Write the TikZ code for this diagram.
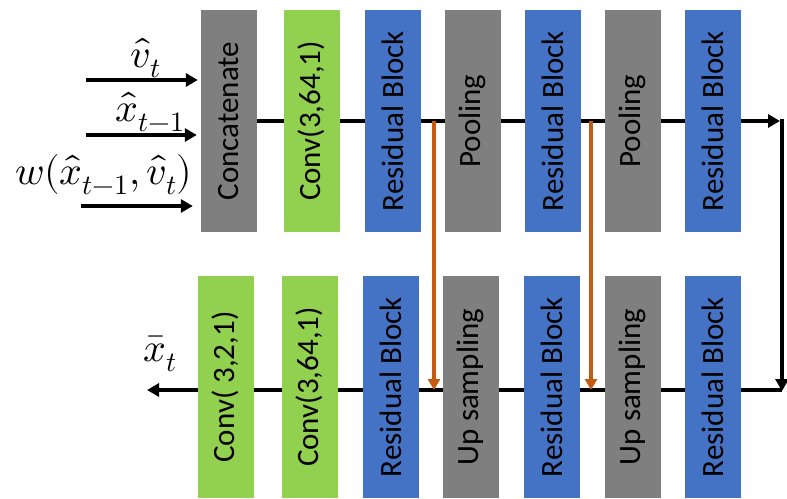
\documentclass[tikz,border=0pt]{standalone}
\usepackage{fontspec}
\usepackage{unicode-math}
\setmainfont{Carlito}
\setmathfont{Latin Modern Math}
\usetikzlibrary{arrows.meta,backgrounds}
\definecolor{gboxc}{HTML}{7F7F7F}
\definecolor{grboxc}{HTML}{92D050}
\definecolor{bboxc}{HTML}{4472C4}
\definecolor{skipc}{HTML}{C55A11}
\tikzset{
  blk/.style={rotate=90, minimum width=222pt, minimum height=56pt, inner sep=0pt,
    font=\fontsize{31}{37}\selectfont, text=black},
  graybox/.style={blk, fill=gboxc},
  greenbox/.style={blk, fill=grboxc},
  bluebox/.style={blk, fill=bboxc},
  mainline/.style={line width=4pt, black},
  tipb/.style={-{Triangle[length=12pt,width=13pt]}},
  skipline/.style={line width=3.2pt, skipc, -{Triangle[length=11pt,width=12pt]}},
  mlabel/.style={inner sep=0pt, font=\fontsize{40}{48}\selectfont},
}
\begin{document}
\begin{tikzpicture}[x=1pt,y=-1pt]
\useasboundingbox (0,0) rectangle (787,498);
% top row
\node[graybox]  (cat) at (229,121)   {Concatenate};
\node[greenbox] (c1)  at (311.5,121) {Conv(3,64,1)};
\node[bluebox]  (r1)  at (392.5,121) {Residual Block};
\node[graybox]  (p1)  at (472.5,121) {Pooling};
\node[bluebox]  (r2)  at (552.5,121) {Residual Block};
\node[graybox]  (p2)  at (632.5,121) {Pooling};
\node[bluebox]  (r3)  at (712.5,121) {Residual Block};
% bottom row
\node[greenbox] (o1) at (225.5,387) {Conv( 3,2,1)};
\node[greenbox] (o2) at (309.5,387) {Conv(3,64,1)};
\node[bluebox]  (b1) at (390.5,387) {Residual Block};
\node[graybox]  (u1) at (470.5,387) {Up sampling};
\node[bluebox]  (b2) at (551.5,387) {Residual Block};
\node[graybox]  (u2) at (632.5,387) {Up sampling};
\node[bluebox]  (b3) at (712.5,387) {Residual Block};
% labels
\node[mlabel] (lv) at (146,58) {$\hat v_t$};
\node[mlabel] (lx) at (150,112) {$\hat x_{t-1}$};
\node[mlabel] (lw) at (104,175) {$w(\hat x_{t-1},\hat v_t)$};
\node[mlabel] (lo) at (160,354) {$\bar x_t$};
% coordinates
\coordinate (i1) at (86,80);
\coordinate (i2) at (86,135);
\coordinate (i3) at (81,206);
\coordinate (tr) at (780,121);
\coordinate (trv) at (782,119);
\coordinate (br) at (782,391);
\coordinate (out) at (147,390);
\coordinate (s1) at (434,121);
\coordinate (e1) at (434,390);
\coordinate (s2) at (591,121);
\coordinate (e2) at (591,390);
\begin{scope}[on background layer]
\draw[mainline, tipb] (cat.south) -- (tr);
\draw[mainline, tipb] (trv) -- (br);
\draw[mainline, tipb] (br |- out) -- (out);
\end{scope}
\draw[mainline, tipb] (i1) -- ([xshift=-3pt]cat.north |- i1);
\draw[mainline, tipb] (i2) -- ([xshift=-4pt]cat.north |- i2);
\draw[mainline, tipb] (i3) -- ([xshift=-8pt]cat.north |- i3);
\draw[skipline] (s1) -- (e1);
\draw[skipline] (s2) -- (e2);
\end{tikzpicture}
\end{document}
